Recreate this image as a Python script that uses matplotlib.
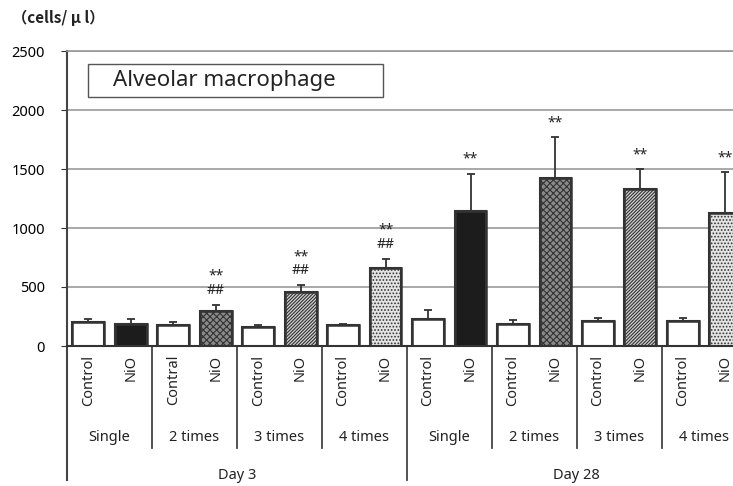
import numpy as np
import matplotlib.pyplot as plt
from matplotlib.patches import Rectangle
from matplotlib.transforms import blended_transform_factory

plt.rcParams['font.family'] = ['Noto Sans', 'Noto Sans CJK JP', 'DejaVu Sans']

groups = ['Single', '2 times', '3 times', '4 times']
days = ['Day 3', 'Day 28']
bar_labels = ['Control', 'NiO', 'Contral', 'NiO', 'Control', 'NiO', 'Control', 'NiO',
              'Control', 'NiO', 'Control', 'NiO', 'Control', 'NiO', 'Control', 'NiO']
means = [200, 190, 178, 300, 165, 455, 175, 660,
         230, 1140, 190, 1420, 215, 1328, 212, 1125]
errs = [30, 35, 25, 50, 15, 60, 10, 80,
        75, 320, 30, 350, 25, 170, 22, 350]
marks = ['', '', '', '**\n##', '', '**\n##', '', '**\n##',
         '', '**', '', '**', '', '**', '', '**']

# fills for NiO bars by dosing group
nio_face = ['#1c1c1c', '#8a8a8a', '#d0d0d0', '#e4e4e4']
nio_hatch = ['', 'xxxxx', '//////////', '.....']
nio_hcol = ['#1c1c1c', '#2a2a2a', '#333333', '#9a9a9a']

fig = plt.figure(figsize=(7.33, 4.86), dpi=100)
ax = fig.add_axes([67/733, 1 - 346/486, 1 - 67/733, 295/486])

x = np.arange(len(means))
for i in x:
    if i % 2 == 0:
        fc, hatch, hc = 'white', '', 'black'
    else:
        g = (i // 2) % 4
        fc, hatch, hc = nio_face[g], nio_hatch[g], nio_hcol[g]
    plt.rcParams['hatch.color'] = hc
    plt.rcParams['hatch.linewidth'] = 0.8
    ax.bar(i, means[i], width=0.75, color=fc, edgecolor='#333333', linewidth=1.5,
           hatch=hatch, zorder=3)
    ax.bar(i, means[i], width=0.75, color='none', edgecolor='#333333', linewidth=1.8, zorder=4)
ax.errorbar(x, means, yerr=[np.zeros(len(errs)), errs], fmt='none', ecolor='#333333',
            elinewidth=1.3, capsize=3, capthick=1.3, zorder=5)

for i in x:
    if marks[i]:
        ax.annotate(marks[i], (i, means[i] + errs[i]), xytext=(0, 5), textcoords='offset points',
                    ha='center', va='bottom', fontsize=10, fontweight='bold',
                    linespacing=0.9, color='#222222')

ax.set_xlim(-0.5, 15.18)
ax.set_ylim(0, 2500)
ax.set_yticks([0, 500, 1000, 1500, 2000, 2500])
ax.tick_params(axis='y', labelsize=10.5, length=4, color='#333333', pad=12)
ax.set_xticks([])
ax.grid(axis='y', color='#9a9a9a', linewidth=1.2, zorder=0)
ax.set_axisbelow(True)
ax.spines['right'].set_visible(False)
ax.spines['top'].set_color('#9a9a9a')
ax.spines['top'].set_linewidth(1.2)
ax.spines['left'].set_color('#444444')
ax.spines['left'].set_linewidth(1.5)
ax.spines['bottom'].set_color('#333333')
ax.spines['bottom'].set_linewidth(1.5)

tr = blended_transform_factory(ax.transData, ax.transAxes)
for i in x:
    ax.text(i, -0.03, bar_labels[i], transform=tr, rotation=90, ha='center', va='top',
            fontsize=10.5, color='#222222')
for k in range(8):
    ax.text(2 * k + 0.5, -0.31, groups[k % 4], transform=tr, ha='center', va='center',
            fontsize=10.5, color='#222222')
for d in range(2):
    ax.text(8 * d + 3.5, -0.44, days[d], transform=tr, ha='center', va='center',
            fontsize=10.5, color='#222222')
for k in range(1, 8):
    bottom = -0.454 if k == 4 else -0.346
    ax.plot([2 * k - 0.5, 2 * k - 0.5], [0, bottom], transform=tr, color='#444444',
            linewidth=1.3, clip_on=False)
ax.plot([-0.5, -0.5], [0, -0.454], transform=tr, color='#444444', linewidth=1.5, clip_on=False)

fig.text(12/733, 1 - 18/486, '（cells/ μ l）', fontsize=11, fontweight='bold', va='center',
         family=['Noto Sans CJK JP', 'DejaVu Sans'], color='#222222')

# title box
ax.add_patch(Rectangle(((88 - 67) / 666, (346 - 97) / 295), 295 / 666, 33 / 295,
                       transform=ax.transAxes, facecolor='white', edgecolor='#555555',
                       linewidth=1, zorder=6))
ax.text((113 - 67) / 666, (346 - 80) / 295, 'Alveolar macrophage', transform=ax.transAxes,
        ha='left', va='center', fontsize=16, color='#222222', zorder=7)

fig.savefig('out.png', dpi=100)
